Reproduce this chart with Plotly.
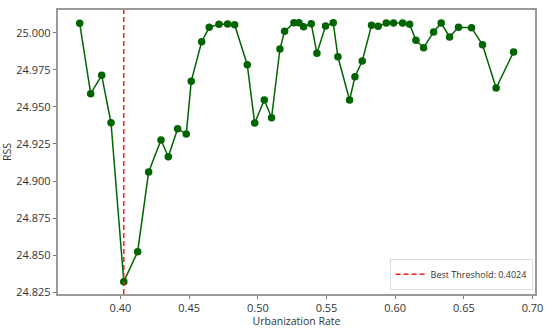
import plotly.graph_objects as go

# threshold sweep: urbanization rate vs residual sum of squares
urban_rate = [0.3703, 0.3783, 0.3863, 0.3931, 0.4024, 0.4125, 0.4205, 0.4295, 0.4348, 0.4416,
              0.4479, 0.4515, 0.4591, 0.4646, 0.4717, 0.4780, 0.4831, 0.4923, 0.4977, 0.5047,
              0.5100, 0.5161, 0.5195, 0.5263, 0.5299, 0.5333, 0.5389, 0.5430, 0.5493, 0.5549,
              0.5583, 0.5668, 0.5707, 0.5760, 0.5828, 0.5876, 0.5935, 0.5988, 0.6054, 0.6105,
              0.6151, 0.6207, 0.6280, 0.6335, 0.6396, 0.6461, 0.6556, 0.6636, 0.6735, 0.6862]
rss = [25.0063, 24.9589, 24.9713, 24.9393, 24.8322, 24.8524, 24.9061, 24.9277, 24.9164, 24.9353,
       24.9317, 24.9672, 24.9939, 25.0036, 25.0057, 25.0059, 25.0054, 24.9784, 24.9391, 24.9546,
       24.9427, 24.9890, 25.0009, 25.0067, 25.0067, 25.0040, 25.0061, 24.9861, 25.0045, 25.0067,
       24.9838, 24.9546, 24.9703, 24.9809, 25.0050, 25.0043, 25.0065, 25.0065, 25.0065, 25.0057,
       24.9949, 24.9899, 25.0005, 25.0065, 24.9971, 25.0036, 25.0034, 24.9919, 24.9627, 24.9870]
best_threshold = 0.4024

x_ticks = [0.40, 0.45, 0.50, 0.55, 0.60, 0.65, 0.70]
x_ticklabels = ["0.40", "0.45", "0.50", "0.55", "0.60", "0.65", "0.70"]
y_ticks = [24.825, 24.850, 24.875, 24.900, 24.925, 24.950, 24.975, 25.000]
y_ticklabels = ["24.825", "24.850", "24.875", "24.900", "24.925", "24.950", "24.975", "25.000"]

y_lo, y_hi = 24.8239, 25.0153

fig = go.Figure()
fig.add_trace(go.Scatter(
    x=urban_rate, y=rss, mode="lines+markers",
    line=dict(color="#006400", width=1.5),
    marker=dict(color="#006400", size=7.5),
    showlegend=False
))
fig.add_trace(go.Scatter(
    x=[best_threshold, best_threshold], y=[y_lo, y_hi], mode="lines",
    line=dict(color="#ff1a1a", width=1.5, dash="5px,3px"),
    name="Best Threshold: %.4f" % best_threshold
))

axis_common = dict(
    showgrid=False, zeroline=False, showline=True, mirror=True,
    linecolor="#999999", linewidth=1.5, automargin=False,
    ticks="outside", ticklen=3.5, tickcolor="#777777", tickwidth=1,
    tickfont=dict(size=11, color="#333333"),
)

fig.update_layout(
    width=550, height=328,
    margin=dict(l=58, r=15, t=10, b=34),
    paper_bgcolor="white", plot_bgcolor="white",
    font=dict(family="Open Sans", size=11, color="#333333"),
    xaxis=dict(range=[0.3545, 0.7018], tickvals=x_ticks, ticktext=x_ticklabels,
               title=dict(text="Urbanization Rate", font=dict(size=10.5)),
               **axis_common),
    yaxis=dict(range=[y_lo, y_hi], tickvals=y_ticks, ticktext=y_ticklabels,
               title=dict(text="RSS", font=dict(size=10.5)),
               **axis_common),
    legend=dict(x=0.995, y=0.015, xanchor="right", yanchor="bottom",
                bgcolor="white", bordercolor="#dddddd", borderwidth=1,
                itemwidth=30, font=dict(size=9)),
)

# drop the default page margin so the figure sits at the window corner
fig.write_html("out.html", config={"displayModeBar": False},
               post_script="document.body.style.margin='0';")
